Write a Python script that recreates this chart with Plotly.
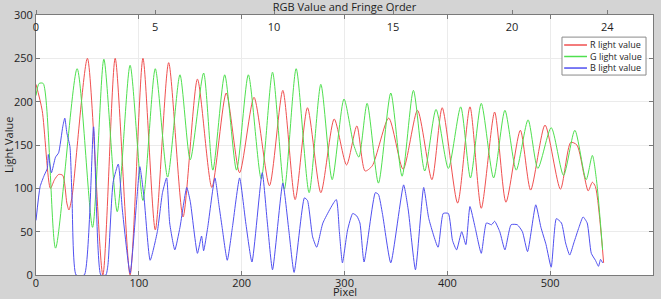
import plotly.graph_objects as go

# ---------------- data ----------------
r_pixel = [0, 6, 14, 18, 22, 26, 30, 32, 35, 50, 65, 77, 91.5, 104, 116, 129, 143, 157, 171,
           185, 198, 212, 227, 240, 252, 264, 277, 290, 302, 312, 320, 327, 343, 357, 371,
           385, 395, 410, 422, 433, 446, 457, 471, 481, 495, 510, 520, 526, 533, 537, 541,
           544, 552]
r_value = [220, 190, 100, 110, 116, 115, 83, 75, 90, 250, 0, 250, 0, 250, 52, 245, 67, 226, 101,
           210, 118, 205, 103, 213, 87, 193, 95, 180, 127, 172, 120, 126, 181, 122, 190,
           110, 193, 83, 194, 77, 188, 84, 167, 98, 173, 99, 153, 150, 115, 97, 107,
           102, 14]

g_pixel = [0, 3, 7, 19, 40, 55, 66, 79, 91.5, 104, 116, 128, 140, 150, 163, 172, 183.5, 195,
           206.5, 219, 230, 241.5, 253, 265.6, 277, 288, 299.5, 309, 314, 322, 333, 345, 356,
           367, 378, 389, 401, 413, 422.5, 433, 445, 456, 467, 478.5, 488, 501, 513, 524,
           535, 541, 545, 551]
g_value = [207, 221, 221, 31, 238, 55, 249, 73, 242, 86, 238, 113, 231, 133, 233, 121, 231, 121,
           231, 111, 234, 99, 238, 95, 220, 110, 203, 150, 136, 198, 106, 210, 114,
           213, 120, 191, 123, 194, 112, 198, 112, 190, 121, 179, 123, 170, 115, 167,
           110, 138, 110, 29]

b_pixel = [0, 4, 8, 11, 12, 15, 19, 22, 26, 28, 30, 33, 35, 39, 47, 56, 63, 68, 70, 75, 80, 84,
           91.5, 98, 101, 105, 111, 118, 123, 127, 130, 135, 140, 146.6, 150, 157, 161, 163,
           167, 174, 178, 181, 186, 191, 198, 204, 210, 220, 225, 230, 240, 246, 251, 261,
           264, 269, 273, 279, 292, 295, 298, 303, 308, 312, 315, 319, 330, 333, 337, 345,
           357.5, 362, 369, 377, 382, 391, 396, 401, 405, 409, 414, 418, 422, 427, 433, 438,
           443, 446, 451, 456, 462, 468, 473, 478, 486, 491, 496, 501, 506, 511, 515, 519,
           523, 528, 532, 536, 540, 544, 547, 549, 551]
b_value = [63, 102, 115, 123, 139, 118, 136, 141, 171, 181, 164, 148, 90, 0, 0, 171, 0, 0, 12,
           107, 128, 75, 2, 87, 125, 90, 17, 50, 95, 112, 60, 29, 55, 101, 85, 25, 45, 28,
           55, 112, 80, 55, 17, 55, 112, 60, 15, 118, 60, 6, 106, 50, 3, 89,
           86, 44, 32, 60, 87, 50, 14, 52, 71, 68, 60, 15, 95, 93, 70, 14,
           104, 75, 6, 101, 65, 32, 71, 71, 40, 29, 50, 35, 79, 55, 25, 60,
           58, 62, 50, 29, 58, 58, 50, 27, 81, 55, 35, 9, 65, 60, 37, 23,
           37, 55, 67, 60, 25, 17, 10, 18, 14]

series_names = ["R light value", "G light value", "B light value"]
series_colors = ["#f05050", "#4fe04f", "#5050f0"]

x_ticks = [0, 100, 200, 300, 400, 500, 600]
y_ticks = [0, 50, 100, 150, 200, 250, 300]
fringe_ticks = [0, 5, 10, 15, 20, 24]

FONT = "Open Sans"
TXT = "#1e1e1e"
AXC = "#7a7a7a"

fig = go.Figure()
for px_, val_, name_, col_, sm_ in zip([r_pixel, g_pixel, b_pixel], [r_value, g_value, b_value],
                                       series_names, series_colors, [0.7, 0.7, 0.5]):
    fig.add_trace(go.Scatter(x=px_, y=val_, mode="lines", name=name_, showlegend=False,
                             line=dict(color=col_, width=1, shape="spline", smoothing=sm_)))
# invisible trace to carry the top (fringe order) axis
fig.add_trace(go.Scatter(x=[fringe_ticks[0]], y=[None], xaxis="x2", mode="lines",
                         showlegend=False, hoverinfo="skip"))

# ---- compact legend box (drawn in paper coordinates) ----
LX0, LX1, LY0, LY1 = 0.8525, 0.9887, 0.769, 0.915
shapes = [dict(type="rect", xref="paper", yref="paper", x0=LX0, x1=LX1, y0=LY0, y1=LY1,
               fillcolor="#ffffff", line=dict(color="#8a8a8a", width=1), layer="above")]
row_y = [0.8846, 0.8404, 0.796]
for ry, col_ in zip(row_y, series_colors):
    shapes.append(dict(type="line", xref="paper", yref="paper", x0=0.856, x1=0.893,
                       y0=ry, y1=ry, line=dict(color=col_, width=1.5), layer="above"))
annotations = [dict(text="<br>".join(series_names), xref="paper", yref="paper", x=0.895,
                    y=row_y[1], xanchor="left", yanchor="middle", align="left",
                    showarrow=False, font=dict(family=FONT, size=9, color=TXT))]
# axis titles
annotations.append(dict(text="Pixel", xref="paper", yref="paper", x=0.5, y=-0.062,
                        xanchor="center", yanchor="middle", showarrow=False,
                        font=dict(family=FONT, size=11, color=TXT)))
annotations.append(dict(text="Light Value", xref="paper", yref="paper", x=-0.0454, y=0.5,
                        xanchor="center", yanchor="middle", showarrow=False, textangle=-90,
                        font=dict(family=FONT, size=11, color=TXT)))

fig.update_layout(
    width=661, height=299,
    margin=dict(l=36, r=8, t=15, b=24, autoexpand=False),
    paper_bgcolor="#d4d4d4",
    plot_bgcolor="#ffffff",
    font=dict(family=FONT, size=11, color=TXT),
    title=dict(text="RGB Value and Fringe Order", x=0.5, xref="paper", xanchor="center",
               y=0.977, yref="container", yanchor="middle",
               font=dict(family=FONT, size=11, color=TXT)),
    showlegend=False,
    shapes=shapes,
    annotations=annotations,
    xaxis=dict(range=[0, 600], tickvals=x_ticks, showgrid=True, gridcolor="#ebebeb",
               showline=True, linecolor=AXC, linewidth=1, mirror="ticks",
               ticks="inside", ticklen=4, tickcolor=AXC, zeroline=False,
               ticklabelstandoff=-2, automargin=False),
    xaxis2=dict(range=[0, 25.92], tickvals=fringe_ticks, overlaying="x", side="top",
                showgrid=False, showline=True, linecolor=AXC, ticks="outside",
                ticklen=4, tickcolor=AXC, ticklabelposition="outside",
                ticklabelstandoff=-25, ticklabeloverflow="allow", zeroline=False,
                anchor="y", automargin=False),
    yaxis=dict(range=[0, 300], tickvals=y_ticks, showgrid=True, gridcolor="#ebebeb",
               showline=True, linecolor=AXC, linewidth=1, mirror="ticks",
               ticks="inside", ticklen=4, tickcolor=AXC, zeroline=False,
               automargin=False),
)

fig.write_html("out.html", post_script="document.body.style.margin='0';",
               config={"displayModeBar": False})
